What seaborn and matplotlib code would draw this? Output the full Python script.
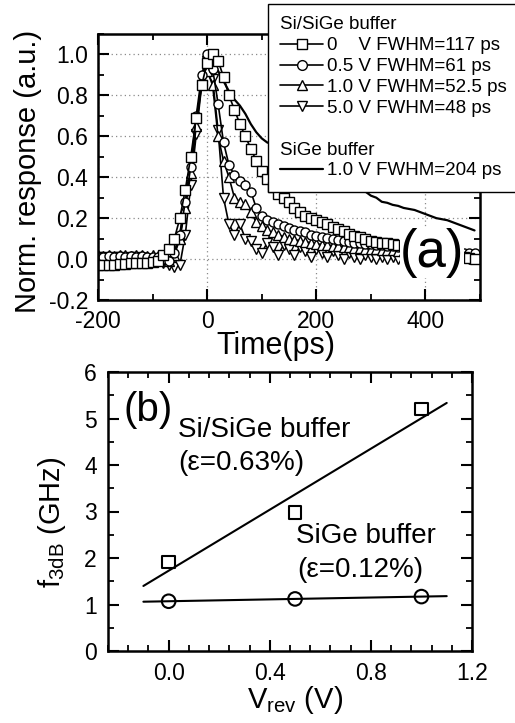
import matplotlib
matplotlib.use("Agg")
import matplotlib.pyplot as plt
import numpy as np
import seaborn as sns
from matplotlib.lines import Line2D
from matplotlib.ticker import MultipleLocator, FuncFormatter

# ---- panel (a): normalised pulse response, sampled every 10 ps ----
time_ps = np.arange(-200, 500, 10)

resp_0v = [
    -0.03, -0.03, -0.03, -0.03, -0.025, -0.025, -0.02, -0.02, -0.02, -0.02,
    -0.015, -0.01, 0.02, 0.05, 0.10, 0.20, 0.34, 0.50, 0.69, 0.85,
    0.96, 1.00, 0.97, 0.89, 0.80, 0.73, 0.66, 0.60, 0.54, 0.48,
    0.43, 0.39, 0.35, 0.32, 0.30, 0.28, 0.25, 0.23, 0.21, 0.20,
    0.19, 0.18, 0.17, 0.155, 0.145, 0.135, 0.125, 0.115, 0.11, 0.10,
    0.09, 0.085, 0.08, 0.08, 0.075, 0.07, 0.065, 0.06, 0.055, 0.05,
    0.045, 0.04, 0.035, 0.03, 0.025, 0.02, 0.015, 0.01, 0.005, 0.0,
]
resp_05v = [
    0.01, 0.01, 0.015, 0.01, 0.015, 0.01, 0.015, 0.01, 0.015, 0.01,
    0.01, 0.01, 0.0, -0.01, 0.03, 0.12, 0.28, 0.45, 0.70, 0.90,
    1.00, 0.93, 0.76, 0.57, 0.46, 0.41, 0.38, 0.36, 0.33, 0.25,
    0.21, 0.19, 0.18, 0.17, 0.16, 0.15, 0.14, 0.135, 0.13, 0.12,
    0.115, 0.11, 0.105, 0.10, 0.095, 0.09, 0.085, 0.08, 0.08, 0.075,
    0.075, 0.07, 0.07, 0.065, 0.065, 0.06, 0.06, 0.055, 0.055, 0.05,
    0.05, 0.045, 0.045, 0.04, 0.04, 0.035, 0.035, 0.03, 0.03, 0.03,
]
resp_1v = [
    0.02, 0.015, 0.02, 0.015, 0.02, 0.02, 0.015, 0.02, 0.02, 0.015,
    0.02, 0.015, 0.0, -0.01, 0.02, 0.10, 0.25, 0.42, 0.65, 0.88,
    0.92, 0.85, 0.60, 0.48, 0.40, 0.30, 0.28, 0.27, 0.23, 0.18,
    0.16, 0.14, 0.13, 0.12, 0.11, 0.10, 0.095, 0.09, 0.085, 0.08,
    0.075, 0.07, 0.07, 0.065, 0.065, 0.06, 0.06, 0.055, 0.055, 0.05,
    0.05, 0.05, 0.045, 0.045, 0.045, 0.04, 0.04, 0.04, 0.035, 0.035,
    0.035, 0.03, 0.03, 0.03, 0.025, 0.025, 0.025, 0.02, 0.02, 0.02,
]
resp_5v = [
    0.01, 0.01, 0.005, 0.01, 0.01, 0.005, 0.01, 0.01, 0.005, 0.0,
    -0.005, -0.01, -0.02, -0.03, -0.04, -0.03, 0.12, 0.36, 0.61, 0.85,
    0.97, 0.88, 0.63, 0.30, 0.17, 0.12, 0.17, 0.10, 0.09, 0.05,
    0.03, 0.08, 0.06, 0.02, 0.07, 0.05, 0.02, 0.06, 0.04, 0.01,
    0.05, 0.03, 0.01, 0.04, 0.02, 0.0, 0.03, 0.01, 0.0, 0.02,
    0.01, 0.0, 0.01, 0.0, 0.01, 0.0, 0.01, 0.0, 0.01, 0.0,
    0.0, 0.01, 0.0, 0.0, 0.01, 0.0, 0.0, 0.01, 0.0, 0.0,
]
resp_sige = [
    0.0, 0.0, 0.005, 0.0, 0.005, 0.0, 0.005, 0.0, 0.005, 0.0,
    0.0, 0.0, 0.0, 0.0, 0.03, 0.12, 0.27, 0.45, 0.66, 0.86,
    1.00, 0.97, 0.92, 0.87, 0.82, 0.78, 0.75, 0.71, 0.66, 0.62,
    0.59, 0.57, 0.56, 0.55, 0.53, 0.52, 0.50, 0.49, 0.48, 0.46,
    0.45, 0.44, 0.42, 0.41, 0.40, 0.38, 0.37, 0.36, 0.35, 0.33,
    0.31, 0.30, 0.28, 0.275, 0.265, 0.26, 0.25, 0.245, 0.24, 0.23,
    0.22, 0.21, 0.20, 0.195, 0.19, 0.18, 0.17, 0.16, 0.15, 0.14,
]

legend_labels = [
    "Si/SiGe buffer",
    "0    V FWHM=117 ps",
    "0.5 V FWHM=61 ps",
    "1.0 V FWHM=52.5 ps",
    "5.0 V FWHM=48 ps",
    " ",
    "SiGe buffer",
    "1.0 V FWHM=204 ps",
]

# ---- panel (b): 3 dB bandwidth vs reverse bias ----
v_rev = [0.0, 0.5, 1.0]
f3db_sisige = [1.92, 2.98, 5.2]
f3db_sige = [1.07, 1.12, 1.17]

sns.set_theme(style="ticks")
plt.rcParams["font.family"] = ["Liberation Sans", "DejaVu Sans"]
plt.rcParams.update({
    "axes.unicode_minus": False,
    "mathtext.fontset": "custom",
    "mathtext.rm": "Liberation Sans",
    "mathtext.it": "Liberation Sans:italic",
    "axes.edgecolor": "black",
    "axes.linewidth": 1.8,
    "xtick.color": "black",
    "ytick.color": "black",
    "text.color": "black",
    "axes.labelcolor": "black",
})

fig = plt.figure(figsize=(5.15, 7.23), dpi=100, facecolor="white")
W, H = 515, 723
ax_a = fig.add_axes([98 / W, 1 - 300 / H, 382 / W, 266 / H])
ax_b = fig.add_axes([108 / W, 1 - 651 / H, 364 / W, 279 / H])


def style_ticks(ax, size=16.5, pad=7):
    ax.tick_params(which="both", direction="in", top=True, right=True,
                   labelsize=size, pad=pad)
    ax.tick_params(which="major", length=8, width=1.5)
    ax.tick_params(which="minor", length=4.5, width=1.3)


one_dec = FuncFormatter(lambda v, p: f"{round(v, 1) + 0.0:.1f}")

# panel (a)
mk = dict(color="black", linewidth=1.2, markersize=6.5, markerfacecolor="white",
          markeredgecolor="black", markeredgewidth=1.0)
sns.lineplot(x=time_ps, y=resp_sige, ax=ax_a, color="black", linewidth=1.6)
sns.lineplot(x=time_ps, y=resp_5v, ax=ax_a, marker="v", **mk)
sns.lineplot(x=time_ps, y=resp_1v, ax=ax_a, marker="^", **mk)
sns.lineplot(x=time_ps, y=resp_05v, ax=ax_a, marker="o", **mk)
sns.lineplot(x=time_ps, y=resp_0v, ax=ax_a, marker="s", **mk)

ax_a.set_xlim(-200, 500)
ax_a.set_ylim(-0.2, 1.1)
ax_a.xaxis.set_major_locator(MultipleLocator(200))
ax_a.xaxis.set_minor_locator(MultipleLocator(100))
ax_a.yaxis.set_major_locator(MultipleLocator(0.2))
ax_a.yaxis.set_minor_locator(MultipleLocator(0.1))
ax_a.yaxis.set_major_formatter(one_dec)
ax_a.set_axisbelow(True)
ax_a.grid(True, which="major", linestyle=(0, (1, 2.5)), color="#8a8a8a", linewidth=0.9)
style_ticks(ax_a, pad=7)

ax_a.set_xlabel("Time(ps)", fontsize=22)
ax_a.xaxis.label.set_verticalalignment("center")
ax_a.xaxis.set_label_coords(0.465, -0.173)
ax_a.set_ylabel("Norm. response (a.u.)", fontsize=21)
ax_a.yaxis.label.set_verticalalignment("center")
ax_a.yaxis.set_label_coords(-0.183, 0.485)

ax_a.text(0.874, 0.177, "(a)", transform=ax_a.transAxes, fontsize=38,
          ha="center", va="center",
          bbox=dict(facecolor="white", edgecolor="none", pad=0))

mk_leg = dict(color="black", linewidth=1.2, markersize=7, markerfacecolor="white",
              markeredgecolor="black", markeredgewidth=1.0)
handles = [
    Line2D([], [], linestyle="none"),
    Line2D([], [], marker="s", **mk_leg),
    Line2D([], [], marker="o", **mk_leg),
    Line2D([], [], marker="^", **mk_leg),
    Line2D([], [], marker="v", **mk_leg),
    Line2D([], [], linestyle="none"),
    Line2D([], [], linestyle="none"),
    Line2D([], [], color="black", linewidth=1.6),
]
leg_fs = 13.5
leg = fig.legend(handles, legend_labels, loc="upper left",
                 bbox_to_anchor=(268 / W, 1 - 4 / H), borderaxespad=0,
                 frameon=True, fancybox=False, framealpha=1, edgecolor="black",
                 fontsize=leg_fs, handlelength=2.3, handletextpad=0.2,
                 labelspacing=0.2, borderpad=0.65, numpoints=1)
leg.get_frame().set_linewidth(1.0)
shift = -(2.3 + 0.2) * leg_fs * 100 / 72
for i in (0, 6):
    leg.get_texts()[i].set_position((shift, 0))

# panel (b)
ax_b.set_xlim(-0.1, 1.1)
sns.regplot(x=v_rev, y=f3db_sisige, ax=ax_b, ci=None, truncate=False,
            scatter=False, color="black", line_kws=dict(linewidth=1.5))
sns.regplot(x=v_rev, y=f3db_sige, ax=ax_b, ci=None, truncate=False,
            scatter=False, color="black", line_kws=dict(linewidth=1.5))
sns.scatterplot(x=v_rev, y=f3db_sisige, ax=ax_b, marker="s", s=80,
                facecolor="none", edgecolor="black", linewidth=1.5, zorder=3)
sns.scatterplot(x=v_rev, y=f3db_sige, ax=ax_b, marker="o", s=95,
                facecolor="none", edgecolor="black", linewidth=1.5, zorder=3)

ax_b.set_xlim(-0.24, 1.2)
ax_b.set_ylim(0, 6)
ax_b.xaxis.set_major_locator(MultipleLocator(0.4))
ax_b.xaxis.set_minor_locator(MultipleLocator(0.08))
ax_b.xaxis.set_major_formatter(one_dec)
ax_b.yaxis.set_major_locator(MultipleLocator(1))
ax_b.yaxis.set_minor_locator(MultipleLocator(0.5))
style_ticks(ax_b, pad=8)

ax_b.set_xlabel(r"V$_{\mathrm{rev}}$ (V)", fontsize=21)
ax_b.xaxis.label.set_verticalalignment("center")
ax_b.xaxis.set_label_coords(0.514, -0.176)
ax_b.set_ylabel(r"f$_{\mathrm{3dB}}$ (GHz)", fontsize=21)
ax_b.yaxis.label.set_verticalalignment("center")
ax_b.yaxis.set_label_coords(-0.154, 0.462)

ax_b.text(-0.178, 5.18, "(b)", fontsize=29, ha="left", va="center")
ax_b.text(0.036, 4.75, "Si/SiGe buffer", fontsize=20, ha="left", va="center")
ax_b.text(0.036, 4.04, "(ε=0.63%)", fontsize=20, ha="left", va="center")
ax_b.text(0.503, 2.47, "SiGe buffer", fontsize=20, ha="left", va="center")
ax_b.text(0.507, 1.74, "(ε=0.12%)", fontsize=20, ha="left", va="center")

fig.savefig("out.png", dpi=100, facecolor="white")
